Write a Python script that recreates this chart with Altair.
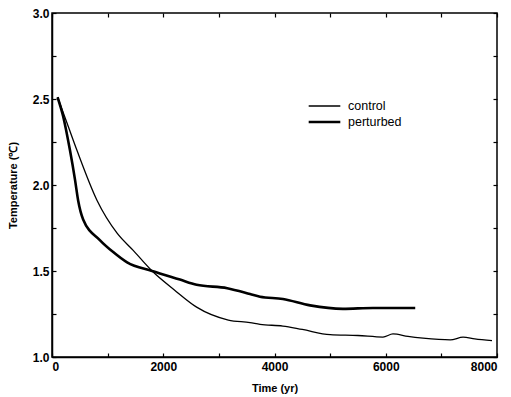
import altair as alt
import pandas as pd

control_t = [100, 270, 450, 810, 1170, 1460, 1800, 2200, 2600, 3170, 3560, 3740, 4150, 4500, 5000, 5500, 5950, 6130, 6400, 6670, 7160, 7390, 7600, 7910]
control_v = [2.51, 2.36, 2.20, 1.91, 1.72, 1.62, 1.50, 1.39, 1.29, 1.215, 1.20, 1.19, 1.18, 1.16, 1.13, 1.125, 1.116, 1.134, 1.12, 1.11, 1.10, 1.115, 1.105, 1.095]
pert_t = [100, 200, 324, 414, 470, 560, 860, 1100, 1350, 1800, 2300, 2600, 3150, 3560, 3740, 4150, 4640, 5230, 5770, 6530]
pert_v = [2.51, 2.40, 2.20, 2.03, 1.91, 1.80, 1.68, 1.61, 1.55, 1.50, 1.45, 1.42, 1.40, 1.366, 1.35, 1.337, 1.30, 1.28, 1.285, 1.285]
series = ["control", "perturbed"]

df = pd.concat([
    pd.DataFrame({"t": control_t, "v": control_v, "s": series[0]}),
    pd.DataFrame({"t": pert_t, "v": pert_v, "s": series[1]}),
])

x_ticks = [0, 1000, 2000, 3000, 4000, 5000, 6000, 7000, 8000]
y_ticks = [1.0, 1.25, 1.5, 1.75, 2.0, 2.25, 2.5, 2.75, 3.0]

leg = dict(title=None, orient="none", legendX=255, legendY=85,
           symbolType="stroke", symbolSize=1000, symbolStrokeColor="black",
           labelFontSize=12.5, labelFont="Liberation Sans", labelColor="black",
           clipHeight=16, rowPadding=0, labelOffset=6)

inward = {"expr": "-4"}

lines = alt.Chart(df).mark_line(interpolate="monotone").encode(
    x=alt.X("t:Q", scale=alt.Scale(domain=[0, 8000], nice=False),
            axis=alt.Axis(title="Time (yr)", values=x_ticks, format="d",
                          labelExpr="datum.value % 2000 == 0 ? datum.label : ''",
                          grid=False, tickSize=inward, labelPadding=8, titlePadding=10)),
    y=alt.Y("v:Q", scale=alt.Scale(domain=[1.0, 3.0], nice=False, zero=False),
            axis=alt.Axis(title="Temperature (\u2103)", values=y_ticks, format=".1f",
                          labelExpr="(datum.value * 2) % 1 == 0 ? datum.label : ''",
                          grid=False, tickSize=inward, labelPadding=7, titlePadding=14)),
    color=alt.Color("s:N", scale=alt.Scale(domain=series, range=["black", "black"]),
                    legend=alt.Legend(**leg)),
    strokeWidth=alt.StrokeWidth("s:N", scale=alt.Scale(domain=series, range=[1.3, 2.6]),
                                legend=alt.Legend(**leg)),
)

frame = alt.Chart(df).mark_line(opacity=0).encode(
    x=alt.X("t:Q", scale=alt.Scale(domain=[0, 8000], nice=False),
            axis=alt.Axis(orient="top", title=None, values=x_ticks, labels=False,
                          grid=False, domain=False, tickSize=inward)),
    y=alt.Y("v:Q", scale=alt.Scale(domain=[1.0, 3.0], nice=False, zero=False),
            axis=alt.Axis(orient="right", title=None, values=y_ticks, labels=False,
                          grid=False, domain=False, tickSize=inward)),
)

chart = alt.layer(lines, frame).resolve_scale(
    x="independent", y="independent"
).resolve_axis(
    x="independent", y="independent"
).properties(
    width=445, height=344,
    background="white",
    autosize=alt.AutoSizeParams(type="none"),
    padding={"left": 44, "top": 5, "right": 6, "bottom": 40},
).configure_view(
    stroke="black", strokeWidth=1.5
).configure_axis(
    domainColor="black", domainWidth=1.5, tickColor="black", tickWidth=1.2,
    labelFont="Liberation Sans", labelFontSize=12, labelFontWeight="bold", labelColor="black",
    titleFont="Liberation Sans", titleFontSize=11, titleFontWeight="bold", titleColor="black",
)

chart.save("out.html", embed_options={"renderer": "svg", "actions": False})
